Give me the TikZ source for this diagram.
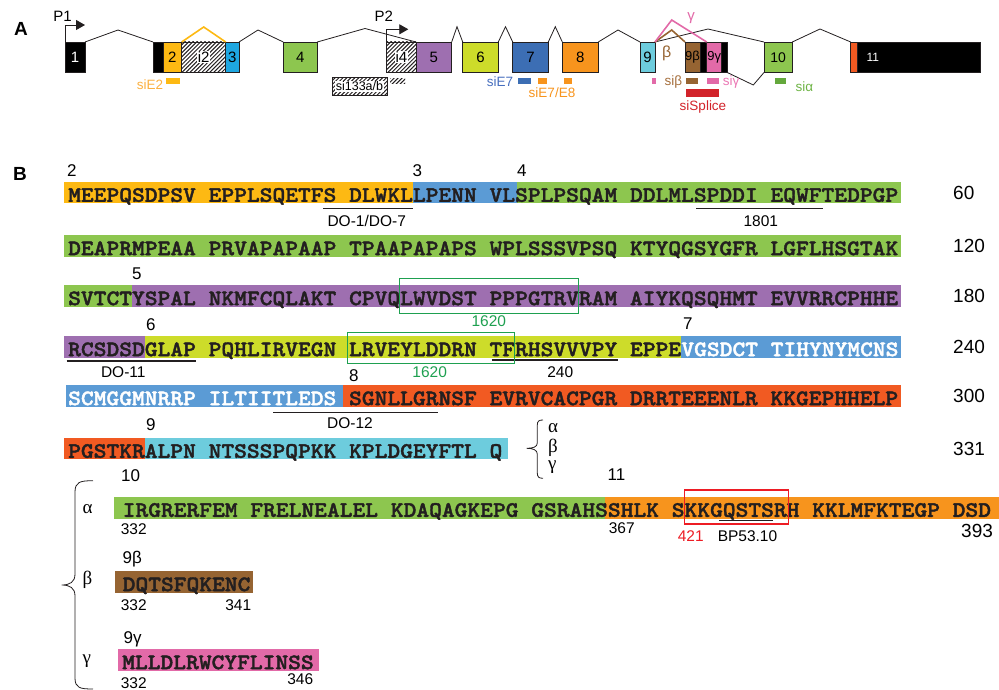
\documentclass[tikz,border=0pt]{standalone}
\usepackage{fontspec}
\setmainfont{Liberation Sans}
\newfontfamily\seqfont{lmmonolt10-bold}[Extension=.otf, FakeStretch=1.1056, FakeBold=1.8]
\newfontfamily\grfont{Liberation Serif}
\usetikzlibrary{arrows.meta,patterns.meta}

\definecolor{txt}{RGB}{35,31,32}
\definecolor{exOr}{RGB}{253,185,19}
\definecolor{exCy}{RGB}{30,167,225}
\definecolor{exGr}{RGB}{141,198,79}
\definecolor{exPu}{RGB}{158,111,176}
\definecolor{exYg}{RGB}{205,220,42}
\definecolor{exBl}{RGB}{60,110,180}
\definecolor{exOa}{RGB}{247,148,29}
\definecolor{exTk}{RGB}{109,204,221}
\definecolor{exBr}{RGB}{150,100,50}
\definecolor{exPi}{RGB}{226,106,168}
\definecolor{exRo}{RGB}{241,90,34}
\definecolor{sqBl}{RGB}{91,155,213}
\definecolor{siRd}{RGB}{210,35,42}
\definecolor{siGr}{RGB}{100,168,60}
\definecolor{siOr}{RGB}{251,176,64}
\definecolor{siBl}{RGB}{70,110,190}
\definecolor{siBr}{RGB}{165,110,60}
\definecolor{siPi}{RGB}{235,120,180}
\definecolor{siGt}{RGB}{110,180,70}
\definecolor{abGr}{RGB}{30,160,80}
\definecolor{abRd}{RGB}{237,28,36}

\newcommand{\fsz}[1]{\fontsize{#1}{#1}\selectfont}

\tikzset{
  exon/.style={draw=txt, line width=0.6pt, inner sep=0pt, outer sep=0pt,
    minimum height=30.5pt, anchor=north west, font=\fsz{15}},
  hatched/.style={pattern={Lines[angle=45,distance=2.8pt,line width=1pt]}, pattern color=txt},
  ilabel/.style={fill=white, inner sep=0.8pt, font=\fsz{15}},
  intron/.style={line width=0.8pt, txt},
  splice/.style={line width=1.6pt},
  silab/.style={inner sep=0pt, font=\fsz{13.5}},
  seq/.style={inner sep=0pt, anchor=base west, text=txt, font=\seqfont\fsz{22}},
  exnr/.style={inner sep=0pt, anchor=west, font=\fsz{17}},
  rownr/.style={inner sep=0pt, anchor=west, font=\fsz{19}},
  tag/.style={inner sep=0pt, font=\fsz{15.5}},
  grk/.style={inner sep=0pt, anchor=west, font=\grfont\fsz{19}},
  abbox/.style={line width=1.2pt},
  uline/.style={line width=1.3pt, txt},
}

\begin{document}
\begin{tikzpicture}[x=1pt, y=-1pt]
        \useasboundingbox (0,0) rectangle (999,690);

        % Teil A
        \node[inner sep=0pt, font=\bfseries\fsz{19}] (LA) at (21,28.5) {A};

        % Exons
        \node[exon, fill=black, text=white, minimum width=20pt] (E1) at (65,42) {1};
        \node[exon, fill=black, minimum width=10pt] (E2k) at (153,42) {};
        \node[exon, fill=exOr, minimum width=18.7pt] (E2) at (163,42) {2};
        \node[exon, hatched, minimum width=44pt] (I2) at (181.7,42) {};
        \node[ilabel] (I2l) at (I2.center) {i2};
        \node[exon, fill=exCy, minimum width=13.3pt] (E3) at (225.7,42) {3};
        \node[exon, fill=exGr, minimum width=34pt] (E4) at (283.3,42) {4};
        \node[exon, hatched, minimum width=29.3pt] (I4) at (386.7,42) {};
        \node[ilabel] (I4l) at (I4.center) {i4};
        \node[exon, fill=exPu, minimum width=35.7pt] (E5) at (416,42) {5};
        \node[exon, fill=exYg, minimum width=35.6pt] (E6) at (462.7,42) {6};
        \node[exon, fill=exBl, minimum width=35.6pt] (E7) at (512.7,42) {7};
        \node[exon, fill=exOa, minimum width=36pt] (E8) at (562.3,42) {8};
        \node[exon, fill=exTk, minimum width=15pt] (E9) at (640,42) {9};
        \node[exon, fill=exBr, minimum width=15pt, font=\fsz{13}] (E9b) at (685,42) {9β};
        \node[exon, fill=black, minimum width=6.7pt] (E9k1) at (700,42) {};
        \node[exon, fill=exPi, minimum width=15pt, font=\fsz{13}] (E9g) at (706.7,42) {9γ};
        \node[exon, fill=black, minimum width=5.6pt] (E9k2) at (721.7,42) {};
        \node[exon, fill=exGr, minimum width=28.3pt, font=\fsz{14}] (E10) at (764,42) {10};
        \node[exon, fill=exRo, minimum width=7pt] (E11a) at (850.7,42) {};
        \node[exon, fill=black, minimum width=122.3pt] (E11) at (857.7,42) {};
        \node[inner sep=0pt, anchor=west, text=white, font=\fsz{12}] (E11l) at (866.5,57) {11};

        % Introns
        \draw[intron] (E1.north east) -- (118,30) -- (E2k.north west);
        \draw[intron] (E3.north east) -- (258,30) -- (E4.north west);
        \draw[intron] (E4.north east) -- (365,28.5) -- (E5.north west);
        \draw[intron] (E5.north east) -- (457,26.7) -- (E6.north west);
        \draw[intron] (E6.north east) -- (505.5,26.7) -- (E7.north west);
        \draw[intron] (E7.north east) -- (555.3,26.7) -- (E8.north west);
        \draw[intron] (E8.north east) -- (618,30) -- (E9.north west);
        \draw[intron] (E9.north east) -- (708,29) -- (E10.north west);
        \draw[intron] (E9k2.south east) -- (753.3,85) -- (E10.south west);
        \draw[intron] (E10.north east) -- (820,29) -- (E11a.north west);
        \draw[splice, exOr] (I2.north west) -- (203.7,27) -- (I2.north east);
        \draw[splice, exBr] (E9.north east) -- (671.7,30) -- (E9b.north west);
        \draw[splice, exPi] (E9.north east) -- (671.7,20) -- (E9g.north west);
        \node[silab, exPi, font=\fsz{15}] (Lg) at (691,18) {γ};
        \node[silab, exBr, font=\fsz{16}] (Lb) at (666.7,53) {β};

        % Promotoren
        \coordinate (P1e) at (85,25);
        \coordinate (P2e) at (408.3,29.3);
        \draw[intron, -{Triangle[length=9pt,width=10pt]}] (E1.north west) |- (P1e);
        \draw[intron, -{Triangle[length=9pt,width=10pt]}] (I4.north west) |- (P2e);
        \node[silab, font=\fsz{15}] (P1) at (62.5,16) {P1};
        \node[silab, font=\fsz{15}] (P2) at (383.8,16) {P2};

        % siRNAs
        \fill[exOr] (166,78.3) rectangle (180,83.7);
        \node[silab, siOr] (siE2) at (150,85) {siE2};
        \node[draw=txt, line width=0.6pt, hatched, inner sep=0pt, minimum width=55pt,
          minimum height=17.7pt, anchor=north west] (S133) at (331.7,77.3) {};
        \node[silab, fill=white, inner sep=0.8pt, font=\fsz{12.5}] (S133l) at (S133.center) {si133a/b};
        \path[hatched] (390,78.3) rectangle (405,83.7);
        \fill[exBl] (518.3,78.3) rectangle (530.7,83.7);
        \fill[exOa] (538.3,78.3) rectangle (546.7,83.7);
        \fill[exOa] (564.3,78.3) rectangle (571.7,83.7);
        \node[silab, siBl] (siE7) at (500,82) {siE7};
        \node[silab, exOa] (siE78) at (552,93) {siE7/E8};
        \fill[exPi] (651.7,78.3) rectangle (655.7,83.7);
        \fill[exBr] (686,78.3) rectangle (698.3,83.7);
        \fill[exPi] (707.3,78.3) rectangle (719,83.7);
        \fill[siRd] (686,89.3) rectangle (719,96.7);
        \fill[siGr] (775,78.3) rectangle (785.7,83.7);
        \node[silab, siBr] (siB) at (673.3,82) {siβ};
        \node[silab, siPi] (siG) at (731,82) {siγ};
        \node[silab, siRd] (siS) at (703,106.7) {siSplice};
        \node[silab, siGt] (siA) at (804.5,86.7) {siα};

        % Teil B
        \node[inner sep=0pt, font=\bfseries\fsz{19}] (LB) at (20,174) {B};

        % Farbige Exon-Bereiche
        \fill[exOr] (64,181.7) rectangle (413.3,203.3);
        \fill[sqBl] (413.3,181.7) rectangle (516.7,203.3);
        \fill[exGr] (516.7,181.7) rectangle (901,203.3);
        \fill[exGr] (64,235) rectangle (901,256.7);
        \fill[exGr] (64,285) rectangle (131.8,306.7);
        \fill[exPu] (131.8,285) rectangle (901,306.7);
        \fill[exPu] (64,336) rectangle (144.6,357.7);
        \fill[exYg] (144.6,336) rectangle (681.2,357.7);
        \fill[sqBl] (681.2,336) rectangle (901,357.7);
        \fill[sqBl] (65.7,385) rectangle (342.6,406.7);
        \fill[exRo] (342.6,385) rectangle (901,406.7);
        \fill[exRo] (64,437.7) rectangle (144.6,459.3);
        \fill[exTk] (144.6,437.7) rectangle (508.3,459.3);
        \fill[exGr] (114,496.7) rectangle (605,519);
        \fill[exOa] (605,496.7) rectangle (999,519);
        \fill[exBr] (115,571) rectangle (252.7,592.7);
        \fill[exPi] (117.7,649) rectangle (319,670.7);

        % Sequenz
        \node[seq] (R1) at (68,201.8) {MEEPQSDPSV EPPLSQETFS DLWKLLPENN VLSPLPSQAM DDLMLSPDDI EQWFTEDPGP};
        \node[seq] (R2) at (68,255.1) {DEAPRMPEAA PRVAPAPAAP TPAAPAPAPS WPLSSSVPSQ KTYQGSYGFR LGFLHSGTAK};
        \node[seq] (R3) at (68,305.1) {SVTCTYSPAL NKMFCQLAKT CPVQLWVDST PPPGTRVRAM AIYKQSQHMT EVVRRCPHHE};
        \node[seq] (R4) at (68,356.1) {RCSDSDGLAP PQHLIRVEGN LRVEYLDDRN TFRHSVVVPY EPPE};
        \node[seq, text=white] (R4b) at (681.2,356.1) {VGSDCT TIHYNYMCNS};
        \node[seq, text=white] (R5) at (68,405.1) {SCMGGMNRRP ILTIITLEDS};
        \node[seq] (R5b) at (348.9,405.1) {SGNLLGRNSF EVRVCACPGR DRRTEEENLR KKGEPHHELP};
        \node[seq] (R6) at (68,457.8) {PGSTKRALPN NTSSSPQPKK KPLDGEYFTL Q};
        \node[seq] (Ra) at (122.5,516.8) {IRGRERFEM FRELNEALEL KDAQAGKEPG GSRAHSSHLK SKKGQSTSRH KKLMFKTEGP DSD};
        \node[seq] (Rb) at (122.5,591.1) {DQTSFQKENC};
        \node[seq] (Rg) at (122,669.1) {MLLDLRWCYFLINSS};

        % Exon-Nummern
        \node[exnr] (N2) at (67,171) {2};
        \node[exnr] (N3) at (412.5,171) {3};
        \node[exnr] (N4) at (517,171) {4};
        \node[exnr] (N5) at (132,273.5) {5};
        \node[exnr] (N6) at (146,324.5) {6};
        \node[exnr] (N7) at (683,324) {7};
        \node[exnr] (N8) at (349,376) {8};
        \node[exnr] (N9) at (146,425) {9};
        \node[exnr] (N10) at (121,476) {10};
        \node[exnr] (N11) at (607.5,475) {11};
        \node[exnr] (N9b) at (122.5,559) {9β};
        \node[exnr] (N9g) at (123.5,639) {9γ};

        % Positionen rechts
        \node[rownr] (Z60) at (953,192.5) {60};
        \node[rownr] (Z120) at (953,245.8) {120};
        \node[rownr] (Z180) at (953,295.8) {180};
        \node[rownr] (Z240) at (953,346.8) {240};
        \node[rownr] (Z300) at (953,395.8) {300};
        \node[rownr] (Z331) at (953,449) {331};
        \node[rownr] (Z393) at (961,531) {393};

        % Epitope
        \draw[uline] (323,208.3) -- (413.3,208.3);
        \draw[uline] (696,208.3) -- (822.7,208.3);
        \draw[uline] (66.7,361) -- (196,361);
        \draw[uline] (491.7,360) -- (618.3,360);
        \draw[uline] (273.3,412.3) -- (438.3,412.3);
        \draw[uline] (719.3,520.7) -- (773.3,520.7);
        \draw[abbox, abGr] (399.3,278.3) rectangle (578.3,313.3);
        \draw[abbox, abGr] (347.7,332.7) rectangle (514.3,363.3);
        \draw[abbox, abRd] (684.3,490) rectangle (788.3,524);
        \node[tag] (DO17) at (366.7,220.7) {DO-1/DO-7};
        \node[tag] (T1801) at (760.8,221) {1801};
        \node[tag, abGr] (T1620a) at (488.8,320.8) {1620};
        \node[tag] (DO11) at (123.3,371.7) {DO-11};
        \node[tag, abGr] (T1620b) at (429.7,371.7) {1620};
        \node[tag] (T240) at (560.3,372) {240};
        \node[tag] (DO12) at (350,423) {DO-12};
        \node[tag] (T367) at (621.7,528.5) {367};
        \node[tag, abRd] (T421) at (690.8,536) {421};
        \node[tag] (BP) at (747.5,536) {BP53.10};
        \node[tag] (A332) at (133.7,528.7) {332};
        \node[tag] (B332) at (133.7,604.7) {332};
        \node[tag] (B341) at (238.3,604.7) {341};
        \node[tag] (G332) at (133.7,682.8) {332};
        \node[tag] (G346) at (300.3,679.5) {346};

        % Spleissvarianten
        \draw[intron] (543,420) .. controls (539,420) and (537.3,421) .. (537.3,425) -- (537.3,443)
          .. controls (537.3,447) and (533,448.3) .. (526.7,448.3)
          .. controls (533,448.3) and (537.3,450) .. (537.3,454) -- (537.3,473)
          .. controls (537.3,477) and (539,478.3) .. (543,478.3);
        \node[grk] (ka) at (548,428.3) {α};
        \node[grk] (kb) at (548,448) {β};
        \node[grk] (kg) at (548,467.5) {γ};
        \draw[intron] (93,480.7) .. controls (80,480.7) and (75,482) .. (75,492) -- (75,574)
          .. controls (75,582) and (70,585) .. (61.7,585)
          .. controls (70,585) and (75,588) .. (75,596) -- (75,678)
          .. controls (75,688) and (80,689) .. (93,689);
        \node[grk] (ga) at (82.5,509) {α};
        \node[grk] (gb) at (82.5,580.3) {β};
        \node[grk] (gg) at (82.5,660.8) {γ};

    \end{tikzpicture}
\end{document}
